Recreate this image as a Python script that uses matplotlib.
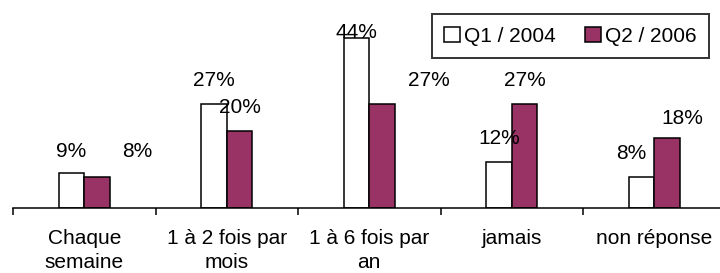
import numpy as np
import matplotlib.pyplot as plt

plt.rcParams['font.family'] = ['Liberation Sans', 'DejaVu Sans']

# categories and values (percent)
categories = ['Chaque\nsemaine', '1 à 2 fois par\nmois', '1 à 6 fois par\nan', 'jamais', 'non réponse']
q1_2004 = [9, 27, 44, 12, 8]
q2_2006 = [8, 20, 27, 27, 18]
series_names = ['Q1 / 2004', 'Q2 / 2006']

# label offsets (pixels) from the top centre of each bar, as placed in the original
q1_label_offsets = [(0, 22), (0, 23), (0, 5), (0, 23), (-10, 24)]
q2_label_offsets = [(40, 26), (0, 23), (47, 23), (0, 23), (15, 20)]

fs = 15
purple = '#993366'

fig = plt.figure(figsize=(7.2, 2.73), dpi=100)
ax = fig.add_axes([13 / 720, 65 / 273, 712.5 / 720, 193.5 / 273])

x = np.arange(len(categories))
w = 0.18
b1 = ax.bar(x - w / 2, q1_2004, w, color='white', edgecolor='black', linewidth=1.1, label=series_names[0])
b2 = ax.bar(x + w / 2, q2_2006, w, color=purple, edgecolor='black', linewidth=1.1, label=series_names[1])

for bars, vals, offs in [(b1, q1_2004, q1_label_offsets), (b2, q2_2006, q2_label_offsets)]:
    for rect, v, off in zip(bars, vals, offs):
        ax.annotate(f'{v}%', (rect.get_x() + rect.get_width() / 2, rect.get_height()),
                    xytext=off, textcoords='offset pixels', ha='center', va='center',
                    fontsize=fs, zorder=5)

ax.set_xlim(-0.5, len(categories) - 0.5)
ax.set_ylim(0, 50)
for s in ['top', 'right', 'left']:
    ax.spines[s].set_visible(False)
ax.spines['bottom'].set_linewidth(1.1)
ax.set_yticks([])

ax.set_xticks(x)
ax.set_xticklabels(categories, fontsize=fs, linespacing=1.35)
ax.tick_params(axis='x', which='major', length=0, pad=15)
ax.set_xticks(np.arange(len(categories) + 1) - 0.5, minor=True)
ax.tick_params(axis='x', which='minor', length=5, width=1.1, direction='out')

leg = fig.legend(loc='upper right', bbox_to_anchor=(709 / 720, 1 - 14 / 273), ncol=2,
                 fontsize=fs, frameon=True, fancybox=False, handlelength=0.75,
                 handleheight=0.75, handletextpad=0.2, columnspacing=1.4, borderpad=0.6,
                 borderaxespad=0)
leg.get_frame().set_edgecolor('black')
leg.get_frame().set_linewidth(1.4)

fig.savefig('out.png', dpi=100)
